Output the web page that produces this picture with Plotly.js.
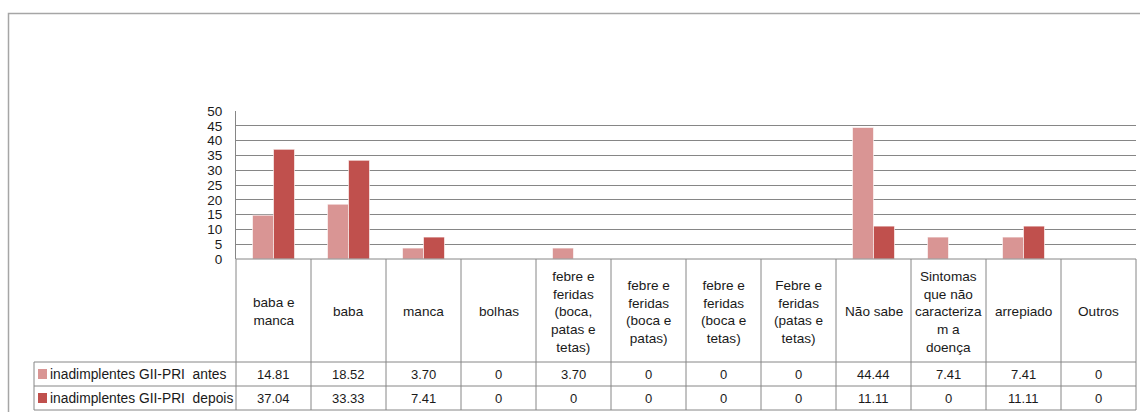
<!DOCTYPE html>
<html>
<head>
<meta charset="utf-8">
<script src="https://cdn.plot.ly/plotly-3.0.1.min.js"></script>
<style>html,body{margin:0;padding:0;background:#fff;}#chart{width:1140px;height:412px;}</style>
</head>
<body>
<div id="chart"></div>
<script>
const categories = ["baba e manca","baba","manca","bolhas","febre e feridas (boca, patas e tetas)","febre e feridas (boca e patas)","febre e feridas (boca e tetas)","Febre e feridas (patas e tetas)","Não sabe","Sintomas que não caracterizam a doença","arrepiado","Outros"];
const headerLabels = ["baba e<br>manca","baba","manca","bolhas","febre e<br>feridas<br>(boca,<br>patas e<br>tetas)","febre e<br>feridas<br>(boca e<br>patas)","febre e<br>feridas<br>(boca e<br>tetas)","Febre e<br>feridas<br>(patas e<br>tetas)","Não sabe","Sintomas<br>que não<br>caracteriza<br>m a<br>doença","arrepiado","Outros"];
const antes = [14.81,18.52,3.70,0,3.70,0,0,0,44.44,7.41,7.41,0];
const depois = [37.04,33.33,7.41,0,0,0,0,0,11.11,0,11.11,0];
const seriesNames = ["inadimplentes GII-PRI  antes","inadimplentes GII-PRI  depois"];
const yTicks = [0,5,10,15,20,25,30,35,40,45,50];

const W = 1140, H = 412;
const px = x => x / W;
const py = y => 1 - y / H;
const X0 = 236, X1 = 1136, YTOP = 111, YBASE = 259;
const ROW1 = 362, ROW2 = 386, ROW3 = 410, LBL = 34;
const colA = "#D99594", colB = "#C0504D";
const grid = "#868686";
const fontFam = "Liberation Sans, Arial, sans-serif";
const fmt = v => v === 0 ? "0" : v.toFixed(2);
const idx = categories.map((c, i) => i);

const traces = [
  {type: "bar", x: idx, y: antes, name: seriesNames[0], marker: {color: colA, line: {color: "rgba(255,255,255,0.6)", width: 1}}, hoverinfo: "y"},
  {type: "bar", x: idx, y: depois, name: seriesNames[1], marker: {color: colB, line: {color: "rgba(255,255,255,0.6)", width: 1}}, hoverinfo: "y"}
];

const shapes = [];
const line = (x0, y0, x1, y1, c, w) => shapes.push({type: "line", xref: "paper", yref: "paper", x0: px(x0), y0: py(y0), x1: px(x1), y1: py(y1), line: {color: c || grid, width: w || 1}});
// outer chart border
shapes.push({type: "rect", xref: "paper", yref: "paper", x0: px(8.5), y0: py(13.5), x1: px(1160), y1: py(430), line: {color: "#a6a6a6", width: 1.5}});
// table lines
for (let i = 0; i <= categories.length; i++) {
  const x = X0 + (X1 - X0) * i / categories.length;
  line(x, YBASE, x, ROW3);
}
line(X0, YBASE, X1, YBASE);
line(LBL, ROW1, X1, ROW1);
line(LBL, ROW2, X1, ROW2);
line(LBL, ROW3, X1, ROW3);
line(LBL, ROW1, LBL, ROW3);
// legend keys
shapes.push({type: "rect", xref: "paper", yref: "paper", x0: px(38), x1: px(47), y0: py(369), y1: py(379), fillcolor: colA, line: {width: 0}});
shapes.push({type: "rect", xref: "paper", yref: "paper", x0: px(38), x1: px(47), y0: py(393), y1: py(403), fillcolor: colB, line: {width: 0}});

const annotations = [];
const tf = {family: fontFam, size: 13, color: "#1a1a1a"};
const hf = {family: fontFam, size: 13.6, color: "#1a1a1a"};
const lf = {family: fontFam, size: 13.8, color: "#1a1a1a"};
categories.forEach((c, i) => {
  annotations.push({xref: "x", yref: "paper", x: i, y: py((YBASE + ROW1) / 2 + 1), text: headerLabels[i], showarrow: false, xanchor: "center", yanchor: "middle", align: "center", font: hf});
  annotations.push({xref: "x", yref: "paper", x: i, y: py((ROW1 + ROW2) / 2), text: fmt(antes[i]), showarrow: false, xanchor: "center", yanchor: "middle", font: tf});
  annotations.push({xref: "x", yref: "paper", x: i, y: py((ROW2 + ROW3) / 2), text: fmt(depois[i]), showarrow: false, xanchor: "center", yanchor: "middle", font: tf});
});
annotations.push({xref: "paper", yref: "paper", x: px(48), y: py((ROW1 + ROW2) / 2), text: seriesNames[0], showarrow: false, xanchor: "left", yanchor: "middle", font: lf});
annotations.push({xref: "paper", yref: "paper", x: px(48), y: py((ROW2 + ROW3) / 2), text: seriesNames[1], showarrow: false, xanchor: "left", yanchor: "middle", font: lf});

const layout = {
  width: W, height: H,
  margin: {l: 0, r: 0, t: 0, b: 0},
  paper_bgcolor: "#fff", plot_bgcolor: "#fff",
  showlegend: false,
  barmode: "group", bargap: 0.44, bargroupgap: 0,
  font: {family: fontFam, size: 13, color: "#1a1a1a"},
  xaxis: {domain: [px(X0), px(X1)], range: [-0.5, categories.length - 0.5], showticklabels: false, showgrid: false, zeroline: false, showline: false, ticks: "", fixedrange: true},
  yaxis: {domain: [py(YBASE), py(YTOP)], range: [0, 50], tickvals: yTicks, ticktext: yTicks.map(String), showgrid: true, gridcolor: grid, gridwidth: 1, zeroline: false, showline: true, linecolor: grid, linewidth: 1, ticks: "outside", ticklen: 10, tickcolor: "rgba(0,0,0,0)", tickfont: {family: fontFam, size: 13.5, color: "#1a1a1a"}, fixedrange: true},
  shapes: shapes,
  annotations: annotations
};

Plotly.newPlot("chart", traces, layout, {displayModeBar: false, staticPlot: true});
</script>
</body>
</html>
